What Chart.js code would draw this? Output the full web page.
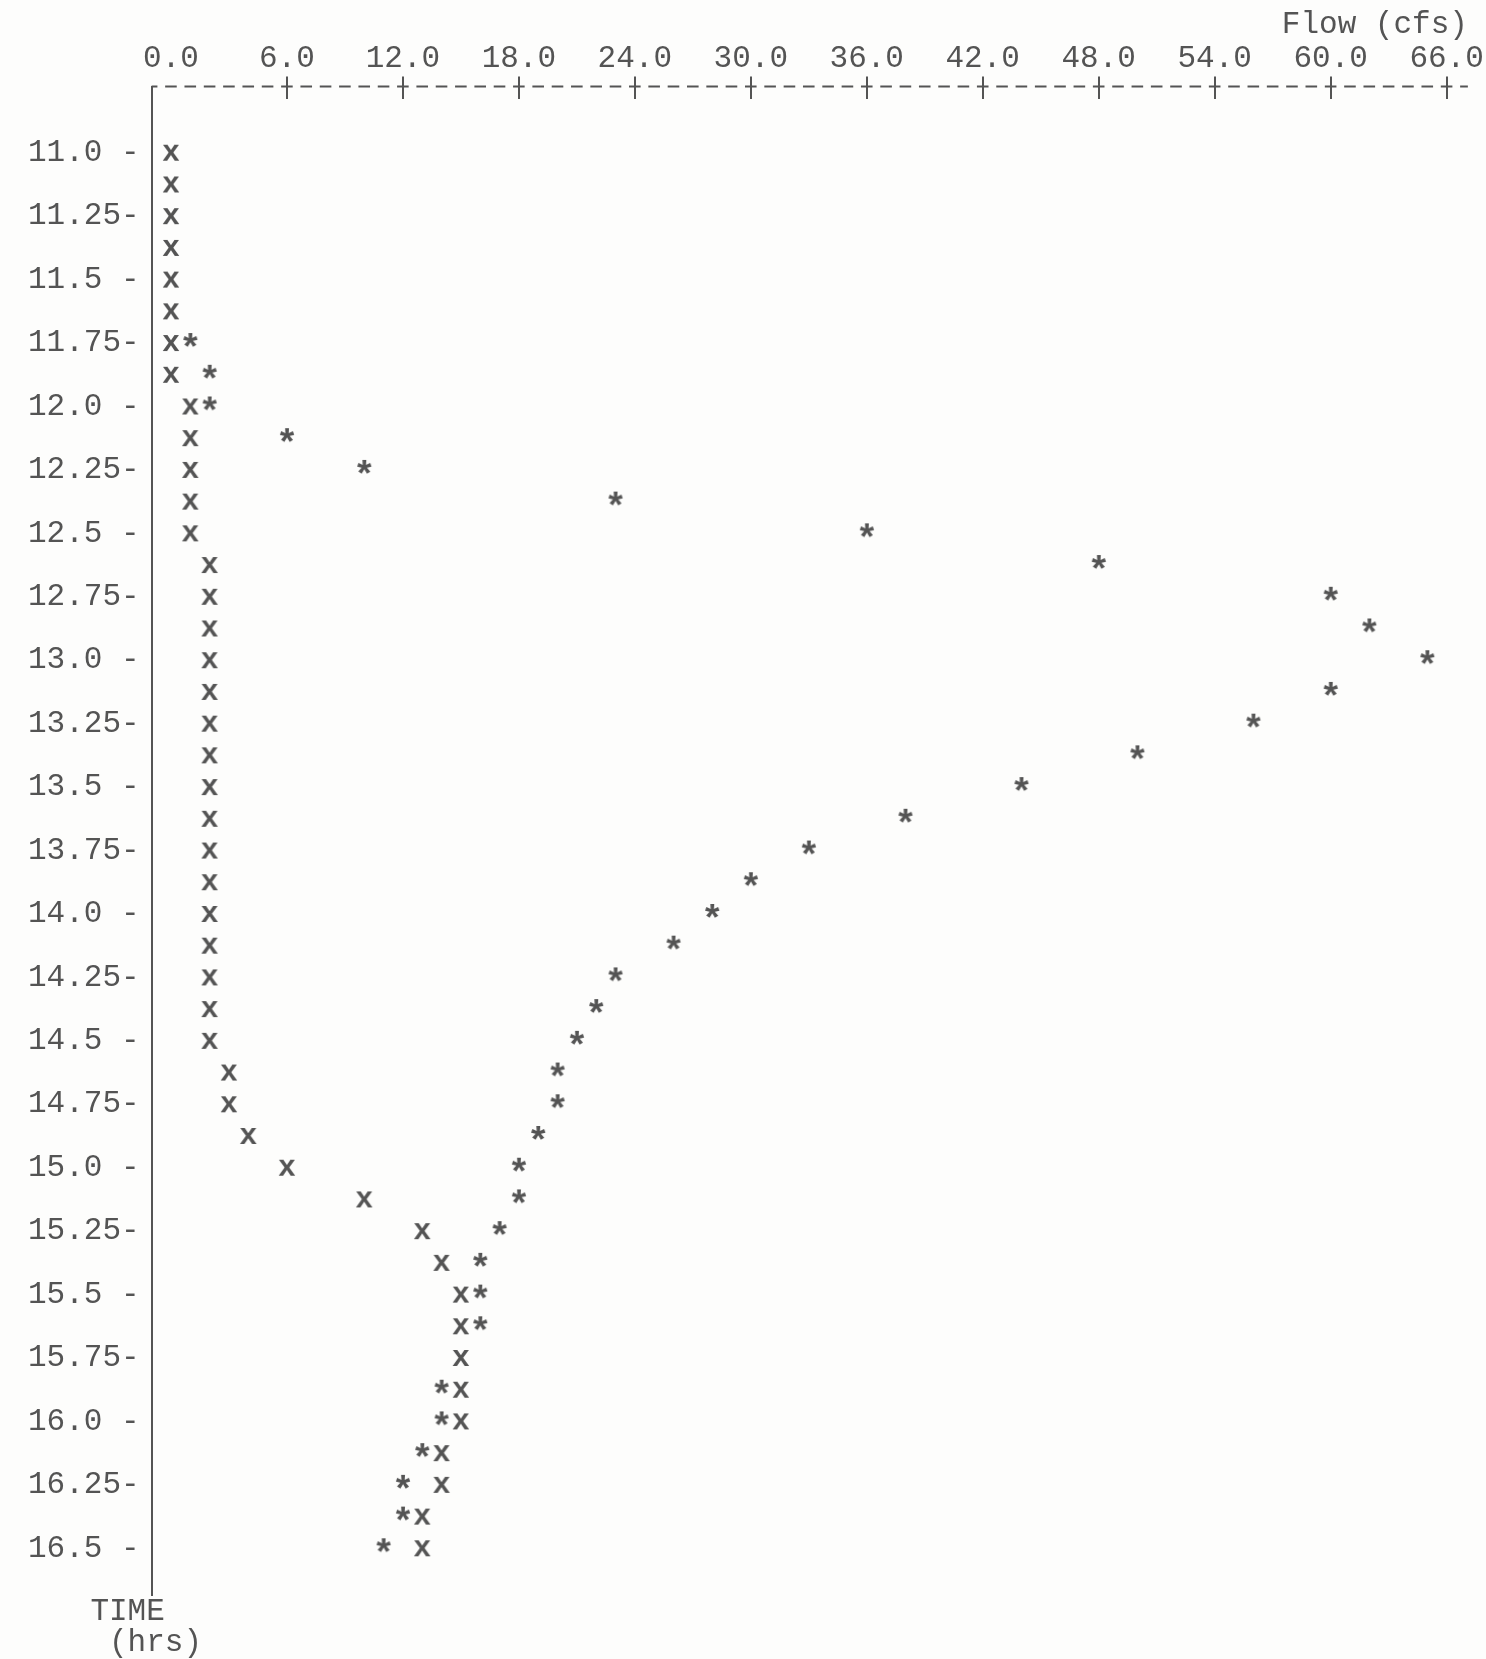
<!DOCTYPE html>
<html lang="en">
<head>
<meta charset="UTF-8">
<title>Flow vs Time</title>
<script src="https://cdn.jsdelivr.net/npm/chart.js@4"></script>
<style>
  html, body { margin: 0; padding: 0; background: #fdfdfc; }
  #wrap { width: 1486px; height: 1659px; }
</style>
</head>
<body>
<div id="wrap"><canvas id="hydro"></canvas></div>
<script>
// one printed row every 0.125 hr
const times = [11.0, 11.125, 11.25, 11.375, 11.5, 11.625, 11.75, 11.875,
               12.0, 12.125, 12.25, 12.375, 12.5, 12.625, 12.75, 12.875,
               13.0, 13.125, 13.25, 13.375, 13.5, 13.625, 13.75, 13.875,
               14.0, 14.125, 14.25, 14.375, 14.5, 14.625, 14.75, 14.875,
               15.0, 15.125, 15.25, 15.375, 15.5, 15.625, 15.75, 15.875,
               16.0, 16.125, 16.25, 16.375, 16.5];

// "x" marks (cfs)
const flowX = [0, 0, 0, 0, 0, 0, 0, 0,
               1, 1, 1, 1, 1, 2, 2, 2,
               2, 2, 2, 2, 2, 2, 2, 2,
               2, 2, 2, 2, 2, 3, 3, 4,
               6, 10, 13, 14, 15, 15, 15, 15,
               15, 14, 14, 13, 13];

// "*" marks (cfs), null where hidden under an x
const flowStar = [null, null, null, null, null, null, 1, 2,
                  2, 6, 10, 23, 36, 48, 60, 62,
                  65, 60, 56, 50, 44, 38, 33, 30,
                  28, 26, 23, 22, 21, 20, 20, 19,
                  18, 18, 17, 16, 16, 16, null, 14,
                  14, 13, 12, 12, 11];

const flowTicks = [0, 6, 12, 18, 24, 30, 36, 42, 48, 54, 60, 66];
const flowTickLabels = ['0.0', '6.0', '12.0', '18.0', '24.0', '30.0', '36.0',
                        '42.0', '48.0', '54.0', '60.0', '66.0'];

const timeTicks = [11.0, 11.25, 11.5, 11.75, 12.0, 12.25, 12.5, 12.75, 13.0, 13.25,
                   13.5, 13.75, 14.0, 14.25, 14.5, 14.75, 15.0, 15.25, 15.5, 15.75,
                   16.0, 16.25, 16.5];
const timeTickLabels = ['11.0 -', '11.25-', '11.5 -', '11.75-', '12.0 -', '12.25-',
                        '12.5 -', '12.75-', '13.0 -', '13.25-', '13.5 -', '13.75-',
                        '14.0 -', '14.25-', '14.5 -', '14.75-', '15.0 -', '15.25-',
                        '15.5 -', '15.75-', '16.0 -', '16.25-', '16.5 -'];

const ink = '#545454';
const mono = { family: '"Liberation Mono", "DejaVu Sans Mono", monospace', size: 31, lineHeight: '31.75px' };

// printer characters used as point markers
function glyph(ch, font, lift) {
    const c = document.createElement('canvas');
    c.width = 30;
    c.height = 34;
    const g = c.getContext('2d');
    g.font = font;
    g.fillStyle = ink;
    g.textAlign = 'center';
    const m = g.measureText(ch);
    const y = c.height / 2 + (m.actualBoundingBoxAscent - m.actualBoundingBoxDescent) / 2 - lift;
    g.fillText(ch, c.width / 2, y);
    return c;
}

const toPoints = arr => arr
    .map((v, i) => v === null ? null : { x: v, y: times[i] })
    .filter(p => p !== null);

// the "------|-----|" axis row along the top
const dashedAxis = {
    id: 'dashedAxis',
    afterDraw(chart) {
        const { ctx, chartArea } = chart;
        const xs = chart.scales.x;
        const pitch = xs.getPixelForValue(1) - xs.getPixelForValue(0);
        ctx.save();
        ctx.strokeStyle = ink;
        ctx.lineWidth = 2;
        ctx.setLineDash([pitch * 0.6, pitch * 0.4]);
        ctx.lineDashOffset = pitch * 0.3;
        ctx.beginPath();
        ctx.moveTo(xs.getPixelForValue(-1), chartArea.top);
        ctx.lineTo(chartArea.right, chartArea.top);
        ctx.stroke();
        ctx.restore();
    }
};

new Chart(document.getElementById('hydro'), {
    type: 'scatter',
    data: {
        datasets: [
            {
                label: 'x',
                data: toPoints(flowX),
                pointStyle: glyph('x', 'bold 30px "Liberation Mono", monospace', 0),
                pointRadius: 10,
                showLine: false
            },
            {
                label: '*',
                data: toPoints(flowStar),
                pointStyle: glyph('*', 'bold 37px "Liberation Mono", monospace', 3),
                pointRadius: 10,
                showLine: false
            }
        ]
    },
    options: {
        responsive: true,
        maintainAspectRatio: false,
        animation: false,
        layout: { padding: { left: 16, right: 12, top: 9, bottom: 0 } },
        plugins: {
            legend: { display: false },
            tooltip: { enabled: false },
            title: {
                display: true,
                position: 'bottom',
                align: 'start',
                text: ['    TIME', '     (hrs)'],
                font: { ...mono, weight: 'normal' },
                color: ink,
                padding: 0
            }
        },
        scales: {
            x: {
                type: 'linear',
                position: 'top',
                min: -1,
                max: 67.1,
                afterBuildTicks: s => { s.ticks = flowTicks.map(v => ({ value: v })); },
                ticks: {
                    callback: v => flowTickLabels[flowTicks.indexOf(v)],
                    font: mono,
                    color: ink,
                    padding: 2,
                    maxRotation: 0,
                    autoSkip: false
                },
                grid: {
                    drawOnChartArea: true,
                    drawTicks: true,
                    tickLength: 10,
                    lineWidth: 2,
                    color: c => (c.tick && c.tick.value === 0) ? 'rgba(0,0,0,0)' : ink
                },
                border: { display: false, dash: [12, 5000] },
                title: {
                    display: true,
                    text: 'Flow (cfs)',
                    align: 'end',
                    font: mono,
                    color: ink,
                    padding: 0
                }
            },
            y: {
                type: 'linear',
                reverse: true,
                min: 10.739,
                max: 16.686,
                afterBuildTicks: s => { s.ticks = timeTicks.map(v => ({ value: v })); },
                ticks: {
                    callback: v => timeTickLabels[timeTicks.indexOf(v)],
                    font: mono,
                    color: ink,
                    padding: 12,
                    autoSkip: false
                },
                grid: { display: false, drawTicks: false },
                border: { display: true, color: ink, width: 2 }
            }
        }
    },
    plugins: [dashedAxis]
});
</script>
</body>
</html>
